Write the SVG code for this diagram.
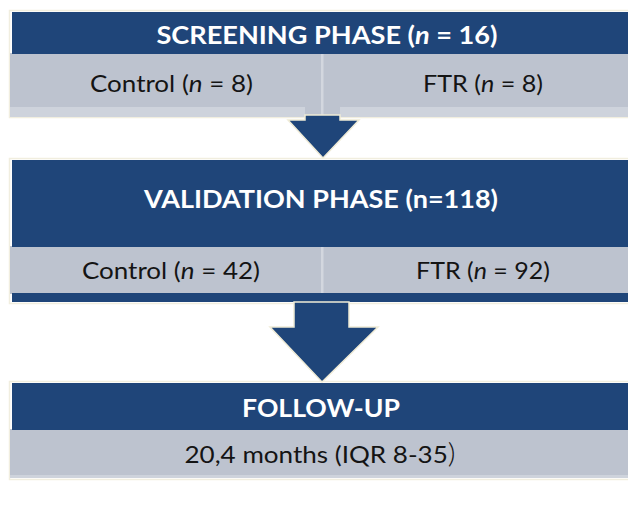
<svg xmlns="http://www.w3.org/2000/svg" width="628" height="513" viewBox="0 0 628 513">
<style>
.hdr{fill:#1F4579}
.row{fill:#BDC3CF}
.strip{fill:#CED3DC}
.div{fill:#D3D7DF}
.frame{fill:none;stroke:#F1EEDF;stroke-width:1.5}
.ht{font-family:Lato,"Open Sans",sans-serif;font-weight:bold;fill:#FFFFFF;font-size:25px}
.rt{font-family:Lato,"Open Sans",sans-serif;fill:#141414;font-size:23.5px}
.arrow{fill:#1F4579;stroke:#EFEBD6;stroke-width:1.5;stroke-linejoin:miter}
</style>
<rect width="628" height="513" fill="#FFFFFF"/>
<g id="screening">
<rect class="frame" x="9.5" y="10.5" width="620" height="107"/>
<rect class="row" x="10" y="53" width="618" height="62"/>
<rect class="strip" x="10" y="107" width="295" height="10"/>
<rect class="strip" x="340" y="107" width="288" height="10"/>
<rect class="hdr" x="12" y="12" width="616" height="42"/>
<rect class="div" x="321" y="54" width="2.5" height="61"/>
<text class="ht" x="327" y="44" text-anchor="middle" textLength="341" lengthAdjust="spacingAndGlyphs">SCREENING PHASE (<tspan font-style="italic">n</tspan> = 16)</text>
<text class="rt" x="171.5" y="92" text-anchor="middle" textLength="163" lengthAdjust="spacingAndGlyphs">Control (<tspan font-style="italic">n</tspan> = 8)</text>
<text class="rt" x="483" y="92" text-anchor="middle" textLength="120" lengthAdjust="spacingAndGlyphs">FTR (<tspan font-style="italic">n</tspan> = 8)</text>
</g>
<g id="validation">
<rect class="frame" x="9.5" y="158.5" width="620" height="145"/>
<rect class="row" x="10" y="246" width="618" height="48"/>
<rect class="hdr" x="12" y="160" width="616" height="87"/>
<rect class="hdr" x="12" y="293" width="616" height="9"/>
<rect class="div" x="321" y="247" width="2.5" height="46"/>
<text class="ht" x="321" y="208" text-anchor="middle" textLength="354" lengthAdjust="spacingAndGlyphs">VALIDATION PHASE (n=118)</text>
<text class="rt" x="171" y="279" text-anchor="middle" textLength="178" lengthAdjust="spacingAndGlyphs">Control (<tspan font-style="italic">n</tspan> = 42)</text>
<text class="rt" x="483" y="279" text-anchor="middle" textLength="134" lengthAdjust="spacingAndGlyphs">FTR (<tspan font-style="italic">n</tspan> = 92)</text>
</g>
<g id="followup">
<rect class="frame" x="9.5" y="381.5" width="620" height="98"/>
<rect class="row" x="10" y="429" width="618" height="47"/>
<rect class="strip" x="10" y="475" width="618" height="3"/>
<rect class="hdr" x="12" y="383" width="616" height="47"/>
<text class="ht" x="321" y="417" text-anchor="middle" textLength="158" lengthAdjust="spacingAndGlyphs">FOLLOW-UP</text>
<text class="rt" x="320" y="463" text-anchor="middle" textLength="271" lengthAdjust="spacingAndGlyphs">20,4 months (IQR 8-35<tspan font-size="27px" font-weight="300">)</tspan></text>
</g>
<g id="connectors">
<rect class="row" x="305" y="107" width="35" height="9"/>
<rect class="div" x="321" y="107" width="2.5" height="9"/>
<polygon class="arrow" points="305,115 340,115 340,120 359,120 323,158 288,120 305,120"/>
<polygon class="arrow" points="294,302 349,302 349,327 378,327 322,382 270,327 294,327"/>
</g>
</svg>
